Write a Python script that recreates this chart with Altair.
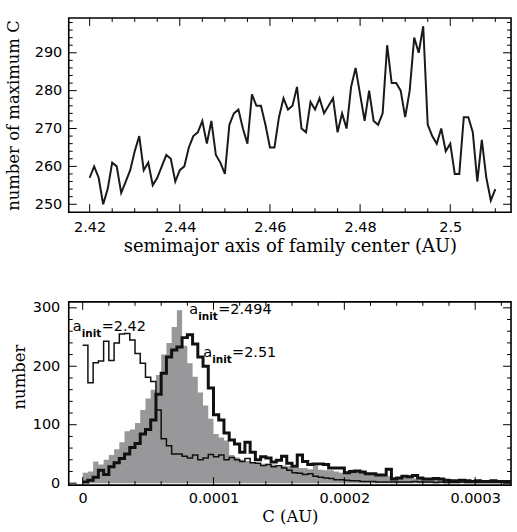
import altair as alt
import pandas as pd

# ---------------- top panel data ----------------
a_center = [2.420, 2.421, 2.422, 2.423, 2.424, 2.425, 2.426, 2.427, 2.428, 2.429,
            2.430, 2.431, 2.432, 2.433, 2.434, 2.435, 2.436, 2.437, 2.438, 2.439,
            2.440, 2.441, 2.442, 2.443, 2.444, 2.445, 2.446, 2.447, 2.448, 2.449,
            2.450, 2.451, 2.452, 2.453, 2.454, 2.455, 2.456, 2.457, 2.458, 2.459,
            2.460, 2.461, 2.462, 2.463, 2.464, 2.465, 2.466, 2.467, 2.468, 2.469,
            2.470, 2.471, 2.472, 2.473, 2.474, 2.475, 2.476, 2.477, 2.478, 2.479,
            2.480, 2.481, 2.482, 2.483, 2.484, 2.485, 2.486, 2.487, 2.488, 2.489,
            2.490, 2.491, 2.492, 2.493, 2.494, 2.495, 2.496, 2.497, 2.498, 2.499,
            2.500, 2.501, 2.502, 2.503, 2.504, 2.505, 2.506, 2.507, 2.508, 2.509,
            2.510]
n_max_c = [257, 260, 257, 250, 254, 261, 260, 253, 256, 259,
           264, 268, 259, 261, 255, 257, 260, 263, 262, 256,
           259, 260, 265, 268, 269, 272, 266, 272, 263, 261,
           258, 271, 274, 275, 270, 266, 279, 276, 276, 271,
           265, 265, 273, 278, 275, 276, 281, 270, 269, 277,
           275, 278, 274, 276, 278, 269, 274, 270, 281, 286,
           279, 272, 280, 272, 271, 274, 292, 282, 282, 280,
           273, 280, 294, 290, 297, 271, 268, 266, 270, 264,
           266, 258, 258, 273, 273, 269, 256, 267, 257, 251,
           254]

# ---------------- bottom panel data ----------------
c_bin_width = 4e-6
hist_a242 = [236, 172, 206, 209, 243, 210, 240, 255, 256, 245,
             222, 205, 181, 174, 125, 76, 64, 50, 50, 46,
             43, 48, 40, 43, 49, 45, 48, 40, 44, 40,
             37, 42, 35, 34, 30, 32, 28, 30, 26, 22,
             18, 17, 15, 16, 12, 10, 9, 8, 6, 6,
             5, 4, 4, 3, 3, 3, 2, 2, 2, 2,
             2, 2, 2, 3, 2, 2, 2, 1, 2, 1,
             1, 1, 2, 1, 1, 1, 1, 1, 1, 1, 1, 1]
hist_a2494 = [18, 20, 37, 32, 40, 48, 58, 70, 89, 92,
              103, 125, 145, 160, 185, 220, 240, 267, 296, 235,
              205, 182, 155, 133, 110, 84, 78, 73, 48, 44,
              40, 38, 36, 34, 33, 33, 32, 31, 30, 29,
              27, 26, 26, 24, 32, 23, 22, 22, 20, 18,
              20, 23, 22, 18, 17, 15, 14, 13, 12, 10,
              9, 9, 10, 8, 7, 7, 6, 6, 5, 5,
              5, 4, 4, 4, 3, 3, 3, 3, 3, 2, 2, 2]
hist_a251 = [2, 5, 10, 22, 15, 28, 35, 42, 50, 61,
             68, 84, 92, 108, 152, 188, 216, 228, 233, 249,
             254, 238, 216, 200, 163, 117, 108, 86, 74, 67,
             53, 70, 53, 40, 45, 43, 36, 39, 46, 34,
             29, 48, 37, 32, 33, 33, 32, 26, 26, 26,
             18, 20, 21, 19, 16, 16, 14, 14, 24, 7,
             9, 12, 11, 13, 9, 7, 7, 8, 7, 5,
             4, 4, 5, 4, 3, 4, 3, 3, 4, 3, 3, 3]

ann_x = [-7.6e-6, 8.15e-5, 9.21e-5]
ann_y = [260.8, 289.8, 216.5]
ann_val = ["=2.42", "=2.494", "=2.51"]

# ---------------- ticks ----------------
top_x_major = [2.42, 2.44, 2.46, 2.48, 2.50]
top_x_minor = [2.425, 2.43, 2.435, 2.445, 2.45, 2.455, 2.465, 2.47, 2.475,
               2.485, 2.49, 2.495, 2.505, 2.51]
top_y_major = [250, 260, 270, 280, 290]
top_y_minor = [252, 254, 256, 258, 262, 264, 266, 268, 272, 274, 276, 278,
               282, 284, 286, 288, 292, 294, 296, 298]
bot_x_major = [0, 0.0001, 0.0002, 0.0003]
bot_x_minor = [0.00002, 0.00004, 0.00006, 0.00008, 0.00012, 0.00014, 0.00016,
               0.00018, 0.00022, 0.00024, 0.00026, 0.00028, 0.00032]
bot_y_major = [0, 100, 200, 300]
bot_y_minor = [20, 40, 60, 80, 120, 140, 160, 180, 220, 240, 260, 280]

W = 444
H1 = 195
H2 = 184
MAJ = 8
MIN = 4

top_xscale = alt.Scale(domain=[2.41536, 2.51348], nice=False, zero=False)
top_yscale = alt.Scale(domain=[247.9, 299.2], nice=False, zero=False)
bot_xscale = alt.Scale(domain=[-1.066e-5, 3.274e-4], nice=False, zero=False)
bot_yscale = alt.Scale(domain=[-3.4, 310.2], nice=False, zero=False)

top_xaxis = alt.Axis(values=top_x_major, format="~g",
                     title="semimajor axis of family center (AU)",
                     titleFontSize=18, labelPadding=8, titlePadding=4)
top_yaxis = alt.Axis(values=top_y_major, format="d", title="number of maximum C",
                     titleFontSize=16.5, labelPadding=7, titlePadding=13)
bot_xaxis = alt.Axis(values=bot_x_major, format="~g", title="C (AU)",
                     titleFontSize=16.5, labelPadding=6, titlePadding=4)
bot_yaxis = alt.Axis(values=bot_y_major, format="d", title="number",
                     titleFontSize=16.5, labelPadding=9, titlePadding=5, titleY=75)


def xticks(values, scale, axis, h, length):
    df = pd.DataFrame({"v": values})
    base = alt.Chart(df).mark_rule(color="black", strokeWidth=1)
    b = base.encode(x=alt.X("v:Q", scale=scale, axis=axis),
                    y=alt.value(h), y2=alt.value(h - length))
    t = base.encode(x=alt.X("v:Q", scale=scale, axis=axis),
                    y=alt.value(0), y2=alt.value(length))
    return [b, t]


def yticks(values, scale, axis, length):
    df = pd.DataFrame({"v": values})
    base = alt.Chart(df).mark_rule(color="black", strokeWidth=1)
    l = base.encode(y=alt.Y("v:Q", scale=scale, axis=axis),
                    x=alt.value(0), x2=alt.value(length))
    r = base.encode(y=alt.Y("v:Q", scale=scale, axis=axis),
                    x=alt.value(W), x2=alt.value(W - length))
    return [l, r]


# ---------------- top chart ----------------
top_df = pd.DataFrame({"a": a_center, "n": n_max_c})
top_line = alt.Chart(top_df).mark_line(color="#1a1a1a", strokeWidth=2).encode(
    x=alt.X("a:Q", scale=top_xscale, axis=top_xaxis),
    y=alt.Y("n:Q", scale=top_yscale, axis=top_yaxis),
)
top_layers = [top_line]
top_layers += xticks(top_x_major, top_xscale, top_xaxis, H1, MAJ)
top_layers += xticks(top_x_minor, top_xscale, top_xaxis, H1, MIN)
top_layers += yticks(top_y_major, top_yscale, top_yaxis, MAJ)
top_layers += yticks(top_y_minor, top_yscale, top_yaxis, MIN)
top_chart = alt.layer(*top_layers).properties(width=W, height=H1)

# ---------------- bottom chart ----------------


def step_df(vals):
    xs = [k * c_bin_width for k in range(len(vals))] + [len(vals) * c_bin_width]
    ys = list(vals) + [vals[-1]]
    return pd.DataFrame({"c": xs, "n": ys})


bx = alt.X("c:Q", scale=bot_xscale, axis=bot_xaxis)
by = alt.Y("n:Q", scale=bot_yscale, axis=bot_yaxis)

gray = alt.Chart(step_df(hist_a2494)).mark_area(
    color="#98989b", interpolate="step-after", clip=True, opacity=1
).encode(x=bx, y=by, y2=alt.datum(0))
thin = alt.Chart(step_df(hist_a242)).mark_line(
    color="#111111", strokeWidth=1.5, interpolate="step-after", clip=True
).encode(x=bx, y=by)
thick = alt.Chart(step_df(hist_a251)).mark_line(
    color="#111111", strokeWidth=3, interpolate="step-after", clip=True
).encode(x=bx, y=by)

ann_df = pd.DataFrame({"c": ann_x, "n": ann_y, "val": ann_val})
ann_base = alt.Chart(ann_df)
ann_a = ann_base.mark_text(align="left", baseline="alphabetic", font="DejaVu Sans",
                           fontSize=14.5, color="black").encode(
    x=bx, y=by, text=alt.value("a"))
ann_init = ann_base.mark_text(align="left", baseline="alphabetic", font="DejaVu Sans",
                              fontSize=10.5, fontWeight="bold", dx=9, dy=6,
                              color="black").encode(x=bx, y=by, text=alt.value("init"))
ann_v = ann_base.mark_text(align="left", baseline="alphabetic", font="DejaVu Sans",
                           fontSize=14.5, dx=29, color="black").encode(
    x=bx, y=by, text="val:N")

bot_layers = [gray, thin, thick, ann_a, ann_init, ann_v]
bot_layers += xticks(bot_x_major, bot_xscale, bot_xaxis, H2, MAJ)
bot_layers += xticks(bot_x_minor, bot_xscale, bot_xaxis, H2, MIN)
bot_layers += yticks(bot_y_major, bot_yscale, bot_yaxis, MAJ)
bot_layers += yticks(bot_y_minor, bot_yscale, bot_yaxis, MIN)
bot_chart = alt.layer(*bot_layers).properties(width=W, height=H2)

chart = alt.vconcat(top_chart, bot_chart, spacing=90, bounds="flush").properties(
    padding={"left": 4, "top": 15, "right": 4, "bottom": 2},
    background="white",
).configure_view(
    stroke="black", strokeWidth=1.6
).configure_axis(
    labelFont="DejaVu Sans", labelFontSize=14.5, labelColor="black",
    titleFont="DejaVu Serif", titleFontWeight="normal",
    titleColor="black", ticks=False, tickSize=0, domain=False, grid=False
)

chart.save("out.html", embed_options={"renderer": "svg", "actions": False})
